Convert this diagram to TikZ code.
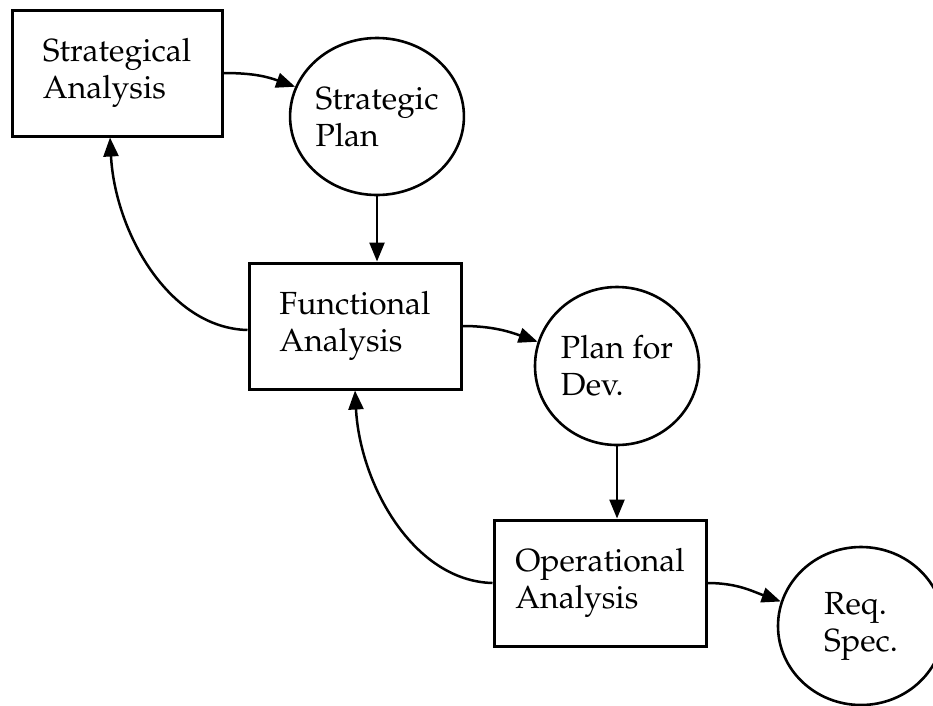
\documentclass[tikz,border=0pt]{standalone}
\IfFileExists{mathpazo.sty}{\usepackage[T1]{fontenc}\usepackage{mathpazo}}{\usepackage{fontspec}\setmainfont{Liberation Serif}}
\usetikzlibrary{shapes.geometric,arrows.meta}
\begin{document}
\begin{tikzpicture}[x=1pt,y=-1pt,
  lbl/.style={align=left,font=\fontsize{32}{37}\selectfont,inner sep=0pt},
  box/.style={lbl,draw,line width=3pt,rectangle,minimum width=210pt,minimum height=126pt},
  disc/.style={lbl,draw,line width=2.6pt,ellipse},
  arr/.style={line width=2.5pt,-{Triangle[length=19pt,width=15pt]}}]
\useasboundingbox (0,0) rectangle (933,705);
\clip (0,0) rectangle (933,705);
\node[box] (b1) at (117,73) {Strategical\\Analysis};
\node[disc,minimum width=168pt,minimum height=157pt] (c1) at (377,116.5) {Strategic\\Plan};
\node[box,minimum width=212pt] (b2) at (355,326) {Functional\\Analysis};
\node[disc,minimum width=164pt,minimum height=158pt] (c2) at (617,366) {Plan for\\Dev.};
\node[box,minimum width=212pt] (b3) at (600,583) {Operational\\Analysis};
\node[disc,minimum width=166pt,minimum height=158pt] (c3) at (861,626) {Req.\\Spec.};
\draw[arr] (b1.east) .. controls +(30,0) and +(-28,-10) .. (c1.160);
\draw[arr] (b2.east) .. controls +(30,0) and +(-28,-10) .. (c2.163);
\draw[arr] (b3.east) .. controls +(30,0) and +(-28,-10) .. (c3.163);
\draw[arr] (c1.south) -- (c1.south |- b2.north);
\draw[arr] (c2.south) -- (c2.south |- b3.north);
\draw[arr] ([yshift=-4pt]b2.west) .. controls +(-79,-2) and +(5,94) .. ([xshift=-7pt]b1.south);
\draw[arr] (b3.west) .. controls +(-79,-2) and +(5,94) .. (b2.south);
\end{tikzpicture}
\end{document}
